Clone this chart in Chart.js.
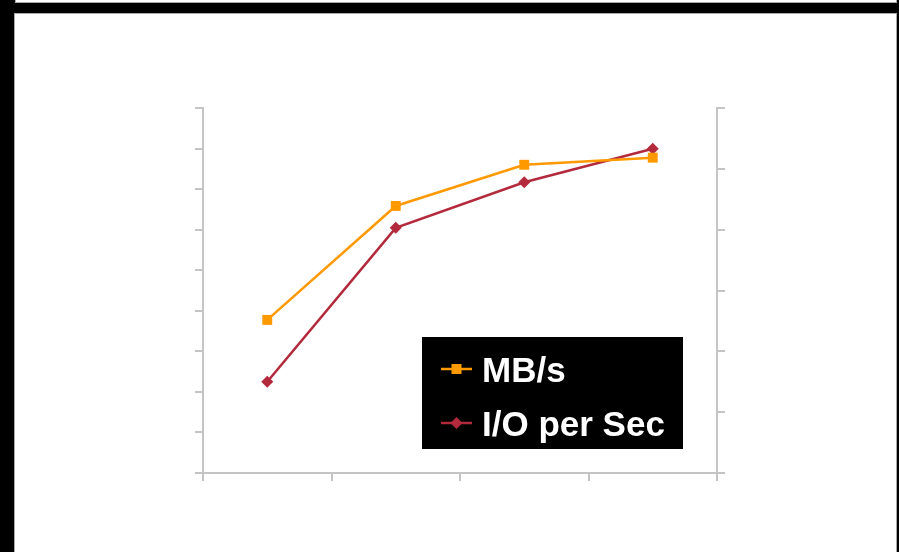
<!DOCTYPE html>
<html>
<head>
<meta charset="utf-8">
<script src="https://cdn.jsdelivr.net/npm/chart.js@4/dist/chart.umd.min.js"></script>
<style>
  html, body { margin: 0; padding: 0; background: #000; }
  body { width: 899px; height: 552px; position: relative; overflow: hidden; }
  .strip { position: absolute; left: 15px; top: -10px; width: 880px; height: 11px;
           background: #fff; border: 1px solid #a8a8a8; }
  .panel { position: absolute; left: 14px; top: 13px; width: 881px; height: 545px;
           background: #fff; border: 1px solid #a8a8a8; }
  #wrap { position: absolute; left: 0; top: 0; width: 899px; height: 552px; }
</style>
</head>
<body>
<div class="strip"></div>
<div class="panel"></div>
<div id="wrap"><canvas id="c" width="899" height="552"></canvas></div>
<script>
// Four test runs, throughput on the left axis, operations on the right axis
const categories = ['1', '2', '3', '4'];
const mbPerSec = [75.5, 131.7, 152, 155.5];
const ioPerSec = [1500, 4030, 4780, 5330];
const leftTicks = { min: 0, max: 180, step: 20 };
const rightTicks = { min: 0, max: 6000, step: 1000 };

const axisGrey = '#c4c4c4';

// Boxed legend drawn on the canvas from the dataset styles
const boxLegend = {
  id: 'boxLegend',
  afterDraw(chart) {
    const ctx = chart.ctx;
    const x0 = 422, y0 = 337, w = 261, h = 112;
    ctx.save();
    ctx.fillStyle = '#000';
    ctx.fillRect(x0, y0, w, h);
    const rows = [369, 423];
    chart.data.datasets.forEach((ds, i) => {
      const y = rows[i];
      ctx.strokeStyle = ds.borderColor;
      ctx.lineWidth = 2.5;
      ctx.beginPath();
      ctx.moveTo(441, y);
      ctx.lineTo(472, y);
      ctx.stroke();
      ctx.fillStyle = ds.backgroundColor;
      if (ds.pointStyle === 'rect') {
        ctx.fillRect(451.5, y - 5, 10, 10);
      } else {
        ctx.beginPath();
        ctx.moveTo(456.5, y - 6);
        ctx.lineTo(462.5, y);
        ctx.lineTo(456.5, y + 6);
        ctx.lineTo(450.5, y);
        ctx.closePath();
        ctx.fill();
      }
      ctx.fillStyle = '#fff';
      ctx.font = 'bold 35px "Liberation Sans", Arial, sans-serif';
      ctx.textBaseline = 'alphabetic';
      ctx.fillText(ds.label, 482, y + 13);
    });
    ctx.restore();
  }
};

new Chart(document.getElementById('c'), {
  type: 'line',
  data: {
    labels: categories,
    datasets: [
      {
        label: 'MB/s',
        data: mbPerSec,
        yAxisID: 'y',
        borderColor: '#ff9900',
        backgroundColor: '#ff9900',
        borderWidth: 2.5,
        pointStyle: 'rect',
        pointRadius: 7,
        pointBorderWidth: 0,
        tension: 0
      },
      {
        label: 'I/O per Sec',
        data: ioPerSec,
        yAxisID: 'y1',
        borderColor: '#b32a3c',
        backgroundColor: '#b32a3c',
        borderWidth: 2.5,
        pointStyle: 'rectRot',
        pointRadius: 6,
        pointBorderWidth: 0,
        tension: 0
      }
    ]
  },
  options: {
    responsive: false,
    animation: false,
    layout: { padding: { left: 195, right: 174, top: 108, bottom: 71 } },
    plugins: { legend: { display: false }, tooltip: { enabled: false } },
    scales: {
      x: {
        offset: true,
        grid: { offset: true, drawOnChartArea: false, drawTicks: true, tickLength: 8, color: axisGrey, lineWidth: 2 },
        border: { display: true, color: axisGrey, width: 2 },
        ticks: { display: false }
      },
      y: {
        position: 'left',
        min: leftTicks.min, max: leftTicks.max,
        grid: { drawOnChartArea: false, drawTicks: true, tickLength: 8, color: axisGrey, lineWidth: 2 },
        border: { display: true, color: axisGrey, width: 2 },
        ticks: { display: false, stepSize: leftTicks.step }
      },
      y1: {
        position: 'right',
        min: rightTicks.min, max: rightTicks.max,
        grid: { drawOnChartArea: false, drawTicks: true, tickLength: 8, color: axisGrey, lineWidth: 2 },
        border: { display: true, color: axisGrey, width: 2 },
        ticks: { display: false, stepSize: rightTicks.step }
      }
    }
  },
  plugins: [boxLegend]
});
</script>
</body>
</html>
